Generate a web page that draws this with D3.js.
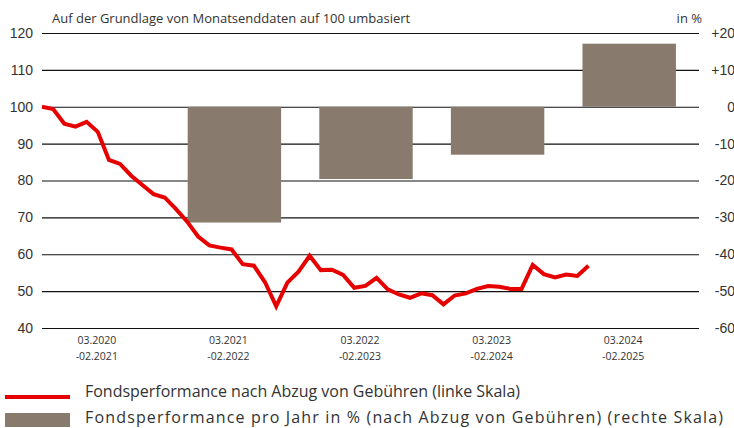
<!DOCTYPE html>
<html>
<head>
<meta charset="utf-8">
<script src="https://cdn.jsdelivr.net/npm/d3@7"></script>
<style>
    body { margin: 0; background: #fff; }
    svg { display: block; font-family: "Open Sans", sans-serif; }
    .tick line { stroke: #111; stroke-width: 1.2px; }
    .tick text { fill: #333; font-size: 14px; }
    .cat { fill: #333; font-size: 10.5px; }
    .legend { fill: #333; font-size: 16px; }
</style>
</head>
<body>
<script>
    var width = 734, height = 428;

    // Monatswerte, auf 100 umbasiert (linke Skala)
    var months = d3.range(50);
    var fund = [100.0, 99.4, 95.4, 94.6, 95.9, 93.2, 85.6, 84.5, 81.3, 78.8,
                76.3, 75.4, 72.3, 68.9, 64.8, 62.4, 61.8, 61.3, 57.3, 56.9,
                52.4, 45.9, 52.3, 55.3, 59.6, 55.7, 55.8, 54.4, 50.9, 51.4,
                53.6, 50.5, 49.1, 48.2, 49.4, 48.9, 46.4, 48.8, 49.4, 50.6,
                51.4, 51.2, 50.6, 50.6, 57.1, 54.6, 53.7, 54.5, 54.1, 56.9];

    // Jahresperformance in % (rechte Skala)
    var periods = ["03.2020|-02.2021", "03.2021|-02.2022", "03.2022|-02.2023", "03.2023|-02.2024", "03.2024|-02.2025"];
    var annual = [null, -31.4, -19.6, -13.0, 17.1];

    var leftTicks = [40, 50, 60, 70, 80, 90, 100, 110, 120];
    var rightTicks = [-60, -50, -40, -30, -20, -10, 0, 10, 20];

    var svg = d3.select("body").append("svg")
        .attr("width", width)
        .attr("height", height);

    var plotL = 42, plotR = 699, plotT = 33, plotB = 328;

    var yLeft = d3.scaleLinear().domain([40, 120]).range([plotB, plotT]);
    var yRight = d3.scaleLinear().domain([-60, 20]).range([plotB, plotT]);
    var xLine = d3.scaleLinear().domain([0, 59]).range([plotL, 700]);
    var xBand = d3.scaleBand().domain(periods).range([37, 695])
        .paddingInner(0.29).paddingOuter(0.145);

    // Gitterlinien + linke Achse
    var gl = svg.append("g")
        .attr("transform", "translate(" + plotL + ",0)")
        .call(d3.axisLeft(yLeft).tickValues(leftTicks).tickSize(-(plotR - plotL)).tickPadding(9));
    gl.select(".domain").remove();

    // rechte Achse
    var gr = svg.append("g")
        .attr("transform", "translate(" + plotR + ",0)")
        .call(d3.axisRight(yRight).tickValues(rightTicks).tickSize(0)
            .tickFormat(function(d) { return d > 0 ? "+" + d : String(d); }));
    gr.select(".domain").remove();
    gr.selectAll("text").attr("text-anchor", "end").attr("x", 36);

    // Balken
    svg.selectAll(".bar")
        .data(periods.map(function(p, i) { return {p: p, v: annual[i]}; })
            .filter(function(d) { return d.v !== null; }))
        .enter().append("rect")
        .attr("class", "bar")
        .attr("x", function(d) { return xBand(d.p); })
        .attr("width", xBand.bandwidth())
        .attr("y", function(d) { return yRight(Math.max(0, d.v)); })
        .attr("height", function(d) { return Math.abs(yRight(d.v) - yRight(0)); })
        .attr("fill", "#887b6d");

    // Linie
    var line = d3.line()
        .x(function(d, i) { return xLine(months[i]); })
        .y(function(d) { return yLeft(d); });

    svg.append("path")
        .datum(fund)
        .attr("d", line)
        .attr("fill", "none")
        .attr("stroke", "#e60000")
        .attr("stroke-width", 4)
        .attr("stroke-linejoin", "miter");

    // Kategorien
    var cat = svg.selectAll(".cat")
        .data(periods)
        .enter().append("text")
        .attr("class", "cat")
        .attr("text-anchor", "middle")
        .attr("transform", function(d) { return "translate(" + (xBand(d) + xBand.bandwidth() / 2 - 6) + ",0)"; });
    cat.append("tspan").attr("x", 0).attr("y", 344).text(function(d) { return d.split("|")[0]; });
    cat.append("tspan").attr("x", 0).attr("y", 360).text(function(d) { return d.split("|")[1]; });

    // Titel
    svg.append("text").attr("x", 52).attr("y", 23)
        .attr("fill", "#333").style("font-size", "13px")
        .text("Auf der Grundlage von Monatsenddaten auf 100 umbasiert");
    svg.append("text").attr("x", 702).attr("y", 23).attr("text-anchor", "end")
        .attr("fill", "#333").style("font-size", "13px")
        .text("in %");

    // Legende
    svg.append("line").attr("x1", 5).attr("x2", 70).attr("y1", 397).attr("y2", 397)
        .attr("stroke", "#e60000").attr("stroke-width", 4);
    svg.append("text").attr("class", "legend").attr("x", 85).attr("y", 397)
        .attr("textLength", 435).attr("lengthAdjust", "spacing")
        .text("Fondsperformance nach Abzug von Gebühren (linke Skala)");
    svg.append("rect").attr("x", 5).attr("y", 413).attr("width", 65).attr("height", 14)
        .attr("fill", "#887b6d");
    svg.append("text").attr("class", "legend").attr("x", 85).attr("y", 423)
        .attr("textLength", 638).attr("lengthAdjust", "spacing")
        .text("Fondsperformance pro Jahr in % (nach Abzug von Gebühren) (rechte Skala)");
</script>
</body>
</html>
